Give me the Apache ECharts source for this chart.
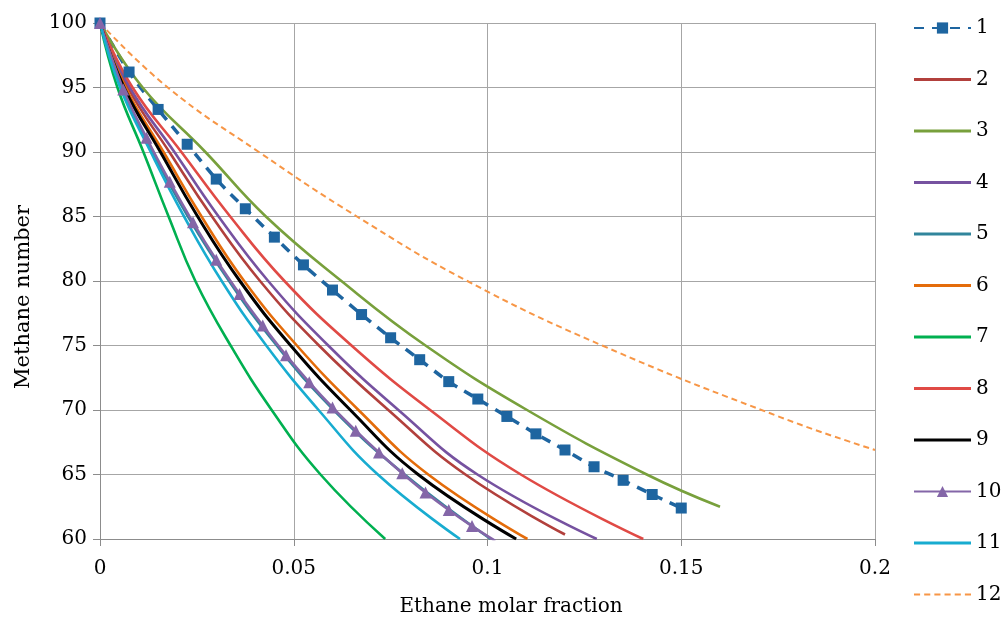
<!DOCTYPE html>
<html>
<head>
<meta charset="utf-8">
<script src="https://cdn.jsdelivr.net/npm/echarts@6/dist/echarts.min.js"></script>
<style>
  html, body { margin: 0; padding: 0; background: #fff; }
  #chart { width: 1001px; height: 628px; }
</style>
</head>
<body>
<div id="chart"></div>
<script>
// ---- data: [ethane molar fraction, methane number] ----
const seriesNames = ['1','2','3','4','5','6','7','8','9','10','11','12'];
const xTicks = [0, 0.05, 0.1, 0.15, 0.2];
const yTicks = [60, 65, 70, 75, 80, 85, 90, 95, 100];

const s1X = [0,0.0075,0.015,0.0225,0.03,0.0375,0.045,0.0525,0.06,0.0675,0.075,0.0825,0.09,0.0975,0.105,0.1125,0.12,0.1275,0.135,0.1425,0.15];
const s1Y = [100,96.2,93.3,90.6,87.9,85.6,83.4,81.25,79.3,77.4,75.6,73.9,72.2,70.85,69.5,68.15,66.9,65.6,64.55,63.45,62.4];

const s2 = [[0,100],[0.0072,95],[0.0179,90],[0.0289,85],[0.0413,80],[0.0565,75],[0.0744,70],[0.0943,65],[0.12,60.35]];
const s3 = [[0,100],[0.011,95],[0.0272,90],[0.0428,85],[0.0623,80],[0.084,75],[0.1102,70],[0.1411,65],[0.16,62.5]];
const s4 = [[0,100],[0.0077,95],[0.0192,90],[0.0306,85],[0.0434,80],[0.0589,75],[0.077,70],[0.0974,65],[0.1282,60]];
const s5 = [[0,100],[0.0055,95],[0.0135,90],[0.0227,85],[0.0333,80],[0.0456,75],[0.0603,70],[0.0786,65],[0.1008,60]];
const s6 = [[0,100],[0.0066,95],[0.0164,90],[0.0262,85],[0.0372,80],[0.0508,75],[0.0667,70],[0.0847,65],[0.1103,60]];
const s7 = [[0,100],[0.0045,95],[0.0112,90],[0.0177,85],[0.0246,80],[0.0337,75],[0.0443,70],[0.0569,65],[0.0736,60]];
const s8 = [[0,100],[0.0084,95],[0.021,90],[0.0336,85],[0.0476,80],[0.0649,75],[0.0852,70],[0.1086,65],[0.1402,60]];
const s9 = [[0,100],[0.0062,95],[0.0156,90],[0.0252,85],[0.0361,80],[0.0492,75],[0.0646,70],[0.0821,65],[0.1074,60]];
const s10X = [0,0.006,0.012,0.018,0.024,0.03,0.036,0.042,0.048,0.054,0.06,0.066,0.072,0.078,0.084,0.09,0.096,0.102];
const s10Y = [100,94.85,91.1,87.7,84.55,81.65,79.0,76.55,74.25,72.15,70.2,68.4,66.7,65.1,63.6,62.25,61.0,59.85];
const s11 = [[0,100],[0.0052,95],[0.0131,90],[0.0217,85],[0.0314,80],[0.0429,75],[0.0564,70],[0.0717,65],[0.0929,60]];
const s12 = [[0,100],[0.0175,95],[0.041,90],[0.0663,85],[0.0948,80],[0.1296,75],[0.1755,69.45],[0.2,66.9]];

const colors = ['#1E65A0','#B2403C','#78A03C','#7652A0','#31859C','#E46C0A','#00B050','#E04A45','#000000','#8466A8','#18ACD0','#F79646'];

const FONT = 'DejaVu Serif';
const pair = (xs, ys) => xs.map((x, i) => [x, ys[i]]);
const SMOOTH = 0.45;

function solid(name, data, color, width) {
  return {
    name, type: 'line', data, smooth: SMOOTH,
    symbol: 'none', showSymbol: false, clip: true,
    lineStyle: { color, width: width || 2.6 },
    itemStyle: { color },
    emphasis: { disabled: true }
  };
}

const series = [
  {
    name: '1', type: 'line', data: pair(s1X, s1Y), smooth: 0.3,
    symbol: 'rect', symbolSize: 11, clip: true,
    lineStyle: { color: colors[0], width: 3.5, type: [10, 8] },
    itemStyle: { color: colors[0] },
    emphasis: { disabled: true }
  },
  solid('2', s2, colors[1]),
  solid('3', s3, colors[2]),
  solid('4', s4, colors[3]),
  solid('5', s5, colors[4]),
  solid('6', s6, colors[5]),
  solid('7', s7, colors[6]),
  solid('8', s8, colors[7]),
  solid('9', s9, colors[8], 3),
  {
    name: '10', type: 'line', data: pair(s10X, s10Y), smooth: 0.3,
    symbol: 'triangle', symbolSize: 12, clip: true,
    lineStyle: { color: colors[9], width: 2.6 },
    itemStyle: { color: colors[9] },
    emphasis: { disabled: true }
  },
  solid('11', s11, colors[10]),
  {
    name: '12', type: 'line', data: s12, smooth: SMOOTH,
    symbol: 'none', showSymbol: false, clip: true,
    lineStyle: { color: colors[11], width: 2, type: [6, 4] },
    itemStyle: { color: colors[11] },
    emphasis: { disabled: true }
  }
];

const BAR = 'path://M0,0H57V3H0Z';
const DASH = 'path://M0,0H6V2H0Z M10,0H16V2H10Z M20,0H26V2H20Z M30,0H36V2H30Z M40,0H46V2H40Z M50,0H56V2H50Z';
const legendData = seriesNames.map(n => {
  if (n === '1' || n === '10') return { name: n };
  if (n === '12') return { name: n, icon: DASH };
  return { name: n, icon: BAR };
});

const chart = echarts.init(document.getElementById('chart'), null, { renderer: 'canvas' });
chart.setOption({
  animation: false,
  backgroundColor: '#ffffff',
  grid: { left: 100, right: 126, top: 23, bottom: 89, containLabel: false },
  xAxis: {
    type: 'value', min: xTicks[0], max: xTicks[xTicks.length - 1], interval: 0.05,
    axisLine: { show: true, lineStyle: { color: '#8C8C8C', width: 1 } },
    axisTick: { show: true, length: 7, lineStyle: { color: '#8C8C8C' } },
    axisLabel: { color: '#000', fontFamily: FONT, fontSize: 20, margin: 20,
      formatter: v => String(+v.toFixed(2)) },
    splitLine: { show: true, lineStyle: { color: '#A6A6A6', width: 1 } }
  },
  yAxis: {
    type: 'value', min: yTicks[0], max: yTicks[yTicks.length - 1], interval: 5,
    axisLine: { show: true, lineStyle: { color: '#8C8C8C', width: 1 } },
    axisTick: { show: true, length: 7, lineStyle: { color: '#8C8C8C' } },
    axisLabel: { color: '#000', fontFamily: FONT, fontSize: 20, margin: 13 },
    splitLine: { show: true, lineStyle: { color: '#A6A6A6', width: 1 } }
  },
  legend: {
    data: legendData,
    orient: 'vertical', left: 913, top: 18, padding: 0,
    itemWidth: 57, itemHeight: 14, itemGap: 31.5,
    symbolKeepAspect: true,
    selectedMode: false,
    textStyle: { color: '#000', fontFamily: FONT, fontSize: 20 }
  },
  graphic: [
    {
      type: 'text', x: 24, y: 297, rotation: Math.PI / 2,
      style: { text: 'Methane number', fill: '#000', font: '21px "DejaVu Serif"', align: 'center', verticalAlign: 'middle' }
    },
    {
      type: 'text', x: 511, y: 607,
      style: { text: 'Ethane molar fraction', fill: '#000', font: '20px "DejaVu Serif"', align: 'center', verticalAlign: 'middle' }
    }
  ],
  series
});
</script>
</body>
</html>
